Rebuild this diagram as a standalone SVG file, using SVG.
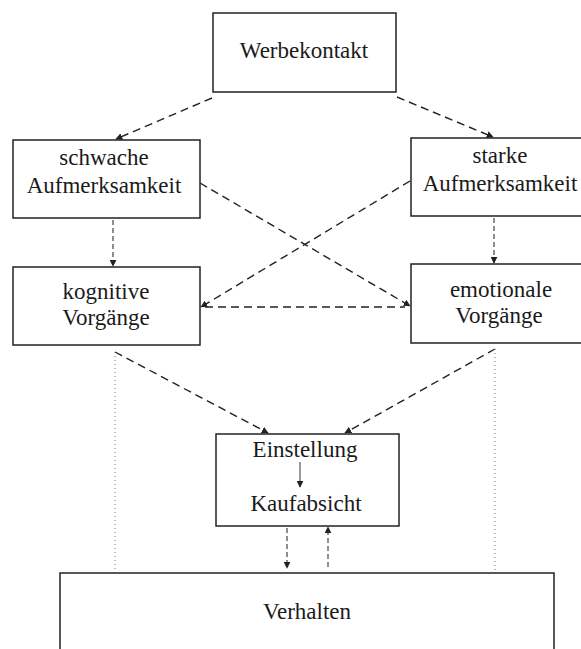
<svg xmlns="http://www.w3.org/2000/svg" width="581" height="649" viewBox="0 0 581 649">
<style>
.box{fill:#fff;stroke:#222;stroke-width:1.5}
.t{font-family:"Liberation Serif","Times New Roman",serif;font-size:23px;fill:#1a1a1a;text-anchor:middle}
.d{fill:none;stroke:#222;stroke-width:1.4;stroke-dasharray:8 5}
.dv{fill:none;stroke:#444;stroke-width:1.2;stroke-dasharray:5 3}
.dot{fill:none;stroke:#777;stroke-width:1;stroke-dasharray:1 3}
.s{fill:none;stroke:#333;stroke-width:1}
</style>
<defs>
<marker id="ah" viewBox="0 0 10 10" refX="9" refY="5" markerWidth="7" markerHeight="7" markerUnits="userSpaceOnUse" orient="auto">
<path d="M0,0 L10,5 L0,10 z" fill="#222"/>
</marker>
</defs>
<rect x="0" y="0" width="581" height="649" fill="#fff"/>
<g id="connectors">
<line class="d" x1="212" y1="98" x2="116" y2="139" marker-end="url(#ah)"/>
<line class="d" x1="397" y1="97" x2="493" y2="137" marker-end="url(#ah)"/>
<line class="d" x1="200" y1="183" x2="410" y2="306" marker-end="url(#ah)"/>
<line class="d" x1="410" y1="181" x2="201" y2="307" marker-end="url(#ah)"/>
<line class="d" x1="205" y1="307" x2="405" y2="307"/>
<line class="dv" x1="113" y1="220" x2="113" y2="266" marker-end="url(#ah)"/>
<line class="dv" x1="494" y1="218" x2="494" y2="263" marker-end="url(#ah)"/>
<line class="d" x1="115" y1="352" x2="268" y2="433" marker-end="url(#ah)"/>
<line class="d" x1="495" y1="349" x2="345" y2="433" marker-end="url(#ah)"/>
<line class="dv" x1="287" y1="528" x2="287" y2="568" marker-end="url(#ah)"/>
<line class="dv" x1="328" y1="567" x2="328" y2="527" marker-end="url(#ah)"/>
<line class="dot" x1="115" y1="352" x2="115" y2="572"/>
<line class="dot" x1="495" y1="349" x2="495" y2="572"/>
</g>
<g id="werbekontakt">
<rect class="box" x="213" y="13" width="183" height="79"/>
<text class="t" x="304" y="58">Werbekontakt</text>
</g>
<g id="schwache">
<rect class="box" x="13" y="140" width="187" height="78"/>
<text class="t" x="104" y="165">schwache</text>
<text class="t" x="104" y="193">Aufmerksamkeit</text>
</g>
<g id="starke">
<rect class="box" x="411" y="138" width="180" height="78"/>
<text class="t" x="500" y="163">starke</text>
<text class="t" x="500" y="191">Aufmerksamkeit</text>
</g>
<g id="kognitive">
<rect class="box" x="13" y="267" width="187" height="78"/>
<text class="t" x="106" y="299">kognitive</text>
<text class="t" x="106" y="325">Vorgänge</text>
</g>
<g id="emotionale">
<rect class="box" x="411" y="264" width="180" height="79"/>
<text class="t" x="501" y="297">emotionale</text>
<text class="t" x="499" y="323">Vorgänge</text>
</g>
<g id="einstellung">
<rect class="box" x="216" y="434" width="183" height="92"/>
<text class="t" x="305" y="457">Einstellung</text>
<line class="s" x1="300" y1="462" x2="300" y2="487" marker-end="url(#ah)"/>
<text class="t" x="306" y="511">Kaufabsicht</text>
</g>
<g id="verhalten">
<rect class="box" x="60" y="573" width="494" height="90"/>
<text class="t" x="307" y="619">Verhalten</text>
</g>
</svg>
